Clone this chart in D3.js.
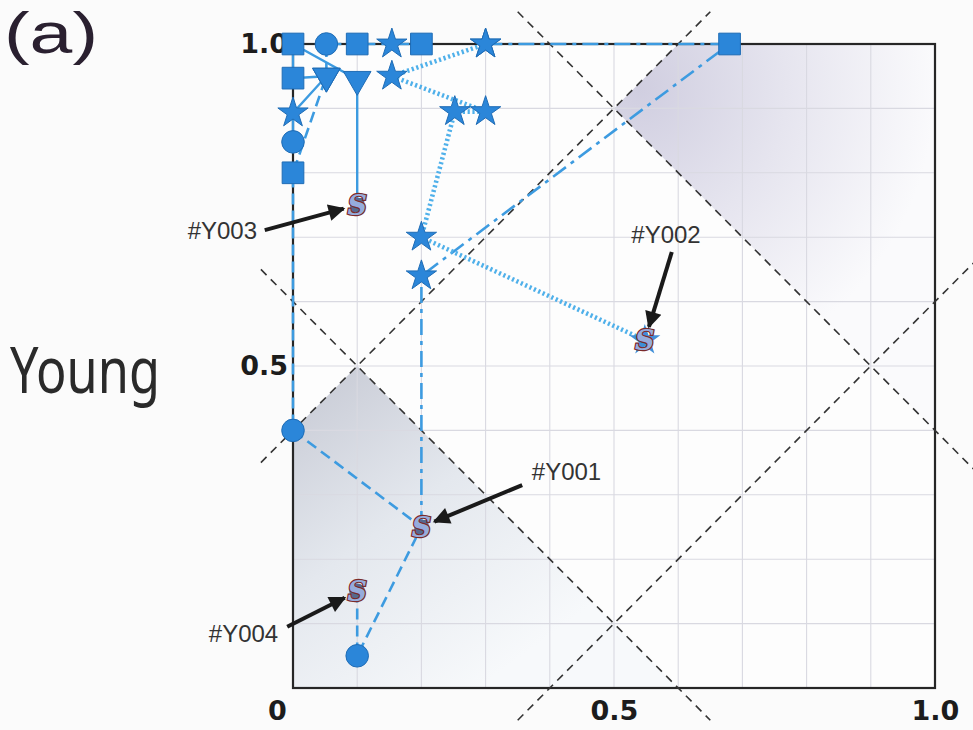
<!DOCTYPE html>
<html>
<head>
<meta charset="utf-8">
<script src="https://cdn.jsdelivr.net/npm/d3@7"></script>
<style>
  html, body { margin: 0; padding: 0; background: #fbfbfb; }
  svg { display: block; }
</style>
</head>
<body>
<svg id="chart" width="973" height="730"></svg>
<script>
// ---- data -------------------------------------------------------------
// Each patient: a start point (S) followed by follow-up visits.
// shape: "circle" | "square" | "triangle" | "star" | "none"
const patientIds = ["#Y001", "#Y002", "#Y003", "#Y004"];

const y001 = [
  { x: 0.20, y: 0.25, shape: "square" },
  { x: 0.20, y: 0.64, shape: "star" },
  { x: 0.68, y: 1.00, shape: "square" },
  { x: 0.30, y: 1.00, shape: "star" }
];
const y002 = [
  { x: 0.548, y: 0.54, shape: "star" },
  { x: 0.20, y: 0.70, shape: "star" },
  { x: 0.252, y: 0.895, shape: "star" },
  { x: 0.30, y: 0.895, shape: "star" },
  { x: 0.154, y: 0.95, shape: "star" },
  { x: 0.30, y: 1.00, shape: "star" }
];
const y003 = [
  { x: 0.10, y: 0.75, shape: "triangle" },
  { x: 0.10, y: 0.945, shape: "triangle" },
  { x: 0.00, y: 1.00, shape: "square" },
  { x: 0.00, y: 0.947, shape: "square" },
  { x: 0.052, y: 0.95, shape: "triangle" },
  { x: 0.00, y: 0.893, shape: "star" },
  { x: 0.00, y: 0.848, shape: "circle" }
];
const y004 = [
  { x: 0.10, y: 0.15, shape: "circle" },
  { x: 0.10, y: 0.05, shape: "circle" },
  { x: 0.20, y: 0.25, shape: "none" },
  { x: 0.00, y: 0.40, shape: "circle" },
  { x: 0.00, y: 0.80, shape: "square" },
  { x: 0.052, y: 0.95, shape: "triangle" },
  { x: 0.052, y: 1.00, shape: "circle" },
  { x: 0.10, y: 1.00, shape: "square" },
  { x: 0.154, y: 1.00, shape: "star" },
  { x: 0.20, y: 1.00, shape: "square" }
];
const seriesPoints = [y001, y002, y003, y004];
const seriesStyles = ["dashdot", "dotted", "solid", "dashed"];

// label text anchor point and arrow tail (data units) for each patient
const labelX = [0.372, 0.581, -0.056, -0.023];
const labelY = [0.337, 0.705, 0.711, 0.085];
const labelAnchor = ["start", "middle", "end", "end"];
const arrowTailX = [0.357, 0.590, -0.044, -0.009];
const arrowTailY = [0.315, 0.677, 0.711, 0.095];

// reference boundaries: y = x + b and y = -x + c
const risingLines = [0.4, -0.4];
const fallingLines = [0.6, 1.4];

const xTicks = [0, 0.5, 1.0];
const yTicks = [0.5, 1.0];
const gridStep = d3.range(0, 1.0001, 0.1);

// ---- layout -------------------------------------------------------------
const svg = d3.select("#chart");
const x = d3.scaleLinear().domain([0, 1]).range([293, 935]);
const y = d3.scaleLinear().domain([0, 1]).range([688, 44]);

const defs = svg.append("defs");

const gLow = defs.append("linearGradient").attr("id", "shadeLow")
  .attr("gradientUnits", "userSpaceOnUse")
  .attr("x1", x(0.02)).attr("y1", y(0.45))
  .attr("x2", x(0.33)).attr("y2", y(0.03));
gLow.append("stop").attr("offset", 0).attr("stop-color", "#cbced8");
gLow.append("stop").attr("offset", 0.45).attr("stop-color", "#e4e8ee");
gLow.append("stop").attr("offset", 1).attr("stop-color", "#f7f9fb");

const gHigh = defs.append("radialGradient").attr("id", "shadeHigh")
  .attr("gradientUnits", "userSpaceOnUse")
  .attr("cx", x(0.54)).attr("cy", y(0.93))
  .attr("r", x(0.46) - x(0));
gHigh.append("stop").attr("offset", 0).attr("stop-color", "#d0cee0");
gHigh.append("stop").attr("offset", 0.5).attr("stop-color", "#e6e5ef");
gHigh.append("stop").attr("offset", 1).attr("stop-color", "#fafafc");

// plot background
svg.append("rect")
  .attr("x", x(0)).attr("y", y(1))
  .attr("width", x(1) - x(0)).attr("height", y(0) - y(1))
  .attr("fill", "#fdfdfd");

// shaded zones
const poly = d3.line().x(d => x(d[0])).y(d => y(d[1]));
svg.append("path")
  .attr("d", poly([[0, 0], [0, 0.4], [0.1, 0.5], [0.6, 0]]) + "Z")
  .attr("fill", "url(#shadeLow)");
svg.append("path")
  .attr("d", poly([[0.5, 0.9], [0.6, 1.0], [1.0, 1.0], [1.0, 0.4]]) + "Z")
  .attr("fill", "url(#shadeHigh)");

// grid
const grid = svg.append("g").attr("stroke", "#d9d9e1").attr("stroke-width", 1.1);
grid.selectAll("line.v").data(gridStep).join("line")
  .attr("x1", d => x(d)).attr("x2", d => x(d))
  .attr("y1", y(0)).attr("y2", y(1));
grid.selectAll("line.h").data(gridStep).join("line")
  .attr("y1", d => y(d)).attr("y2", d => y(d))
  .attr("x1", x(0)).attr("x2", x(1));

// frame
svg.append("rect")
  .attr("x", x(0)).attr("y", y(1))
  .attr("width", x(1) - x(0)).attr("height", y(0) - y(1))
  .attr("fill", "none").attr("stroke", "#262626").attr("stroke-width", 2.2);

// diagonal boundaries (extend 0.15 past the corner points)
const diag = svg.append("g")
  .attr("stroke", "#333").attr("stroke-width", 1.6)
  .attr("stroke-dasharray", "8,6").attr("fill", "none");
const risingSpan = { "0.4": [-0.05, 0.65], "-0.4": [0.35, 1.06] };
const fallingSpan = { "0.6": [-0.05, 0.65], "1.4": [0.35, 1.06] };
risingLines.forEach(b => {
  const [a0, a1] = risingSpan[String(b)];
  diag.append("line")
    .attr("x1", x(a0)).attr("y1", y(a0 + b))
    .attr("x2", x(a1)).attr("y2", y(a1 + b));
});
fallingLines.forEach(c => {
  const [a0, a1] = fallingSpan[String(c)];
  diag.append("line")
    .attr("x1", x(a0)).attr("y1", y(c - a0))
    .attr("x2", x(a1)).attr("y2", y(c - a1));
});

// ---- trajectories --------------------------------------------------------
const styleMap = {
  solid:   { dash: null,       width: 2.4, color: "#3d9be0" },
  dashed:  { dash: "11,6",     width: 2.6, color: "#3d9be0" },
  dashdot: { dash: "16,6,4,6", width: 2.6, color: "#3d9be0" },
  dotted:  { dash: "2.2,2.6",  width: 4.6, color: "#4fb0ea" }
};

const linesG = svg.append("g").attr("fill", "none");
seriesPoints.forEach((pts, i) => {
  const st = styleMap[seriesStyles[i]];
  const ln = d3.line().x(d => x(d.x)).y(d => y(d.y));
  linesG.append("path")
    .attr("d", ln(pts))
    .attr("stroke", st.color)
    .attr("stroke-width", st.width)
    .attr("stroke-dasharray", st.dash)
    .attr("stroke-linecap", "butt");
});

// ---- markers ------------------------------------------------------------
const symbolFor = {
  circle:   d3.symbol().type(d3.symbolCircle).size(400),
  square:   d3.symbol().type(d3.symbolSquare).size(470),
  triangle: d3.symbol().type(d3.symbolTriangle).size(330),
  star:     d3.symbol().type(d3.symbolStar).size(285)
};

const markG = svg.append("g");
seriesPoints.forEach(pts => {
  pts.slice(1).filter(d => d.shape !== "none").forEach(d => {
    markG.append("path")
      .attr("d", symbolFor[d.shape]())
      .attr("transform", `translate(${x(d.x)},${y(d.y)})` + (d.shape === "triangle" ? " rotate(180)" : ""))
      .attr("fill", "#2b86d9")
      .attr("stroke", "#1f6cb5")
      .attr("stroke-width", 1);
  });
});

// start markers: small base shape with an "S" glyph on top
const baseSymbol = { star: d3.symbolStar, circle: d3.symbolCircle, square: d3.symbolSquare, triangle: d3.symbolSquare };
const startG = svg.append("g");
seriesPoints.forEach(pts => {
  const d = pts[0];
  const g = startG.append("g").attr("transform", `translate(${x(d.x)},${y(d.y)})`);
  g.append("path")
    .attr("d", d3.symbol().type(baseSymbol[d.shape]).size(d.shape === "star" ? 300 : 200)())
    .attr("fill", d.shape === "star" ? "#3f8fd8" : "#55698f");
  g.append("text")
    .attr("text-anchor", "middle").attr("dy", "0.36em")
    .attr("font-family", "DejaVu Serif, Liberation Serif, serif")
    .attr("font-weight", "bold").attr("font-style", "italic")
    .attr("font-size", 27)
    .attr("fill", "#96acdc")
    .attr("stroke", "#7a2a2a").attr("stroke-width", 2.4)
    .attr("paint-order", "stroke")
    .text("S");
});

// ---- annotations ----------------------------------------------------------
defs.append("marker").attr("id", "arrowHead")
  .attr("viewBox", "0 0 10 10").attr("refX", 9).attr("refY", 5)
  .attr("markerWidth", 5.5).attr("markerHeight", 4.2).attr("orient", "auto")
  .attr("markerUnits", "strokeWidth")
  .append("path").attr("d", "M0,0 L10,5 L0,10 Z").attr("fill", "#1a1a1a");

const annG = svg.append("g");
patientIds.forEach((id, i) => {
  const s = seriesPoints[i][0];
  annG.append("text")
    .attr("x", x(labelX[i])).attr("y", y(labelY[i])).attr("dy", "0.36em")
    .attr("text-anchor", labelAnchor[i])
    .attr("font-family", "Liberation Sans, Arial, sans-serif")
    .attr("font-size", 24).attr("fill", "#333")
    .text(id);
  // arrow toward the start marker, stopping short of it
  const sx = x(arrowTailX[i]), sy = y(arrowTailY[i]);
  const tx = x(s.x), ty = y(s.y);
  const dx = tx - sx, dy = ty - sy, len = Math.hypot(dx, dy);
  const ex = tx - dx / len * 14, ey = ty - dy / len * 14;
  annG.append("line")
    .attr("x1", sx).attr("y1", sy).attr("x2", ex).attr("y2", ey)
    .attr("stroke", "#1a1a1a").attr("stroke-width", 4)
    .attr("marker-end", "url(#arrowHead)");
});

// ---- axes -----------------------------------------------------------------
const fmt = d => d === 0 ? "0" : d3.format(".1f")(d);
const xAxis = svg.append("g")
  .attr("transform", `translate(0,${y(0)})`)
  .call(d3.axisBottom(x).tickValues(xTicks).tickSize(0).tickPadding(13).tickFormat(fmt));
xAxis.select(".domain").remove();
xAxis.selectAll("text")
  .attr("font-family", "DejaVu Sans, sans-serif").attr("font-weight", "bold")
  .attr("font-size", 27).attr("fill", "#1c1c1c")
  .attr("dx", d => d === 0 ? "-0.6em" : 0);

const yAxis = svg.append("g")
  .attr("transform", `translate(${x(0)},0)`)
  .call(d3.axisLeft(y).tickValues(yTicks).tickSize(0).tickPadding(5).tickFormat(fmt));
yAxis.select(".domain").remove();
yAxis.selectAll("text")
  .attr("font-family", "DejaVu Sans, sans-serif").attr("font-weight", "bold")
  .attr("font-size", 27).attr("fill", "#1c1c1c");

// keep the markers above the "1.0" label
markG.raise(); startG.raise(); annG.raise();

// axis title and panel letter
svg.append("text")
  .attr("x", 10).attr("y", 393)
  .attr("font-family", "Noto Sans, Liberation Sans, sans-serif")
  .attr("font-size", 64).attr("fill", "#2a2a2a")
  .attr("textLength", 150).attr("lengthAdjust", "spacingAndGlyphs")
  .text("Young");
svg.append("text")
  .attr("x", 4).attr("y", 53)
  .attr("font-family", "Liberation Sans, Arial, sans-serif")
  .attr("font-size", 58).attr("fill", "#2a2030")
  .attr("textLength", 94).attr("lengthAdjust", "spacingAndGlyphs")
  .text("(a)");
</script>
</body>
</html>
